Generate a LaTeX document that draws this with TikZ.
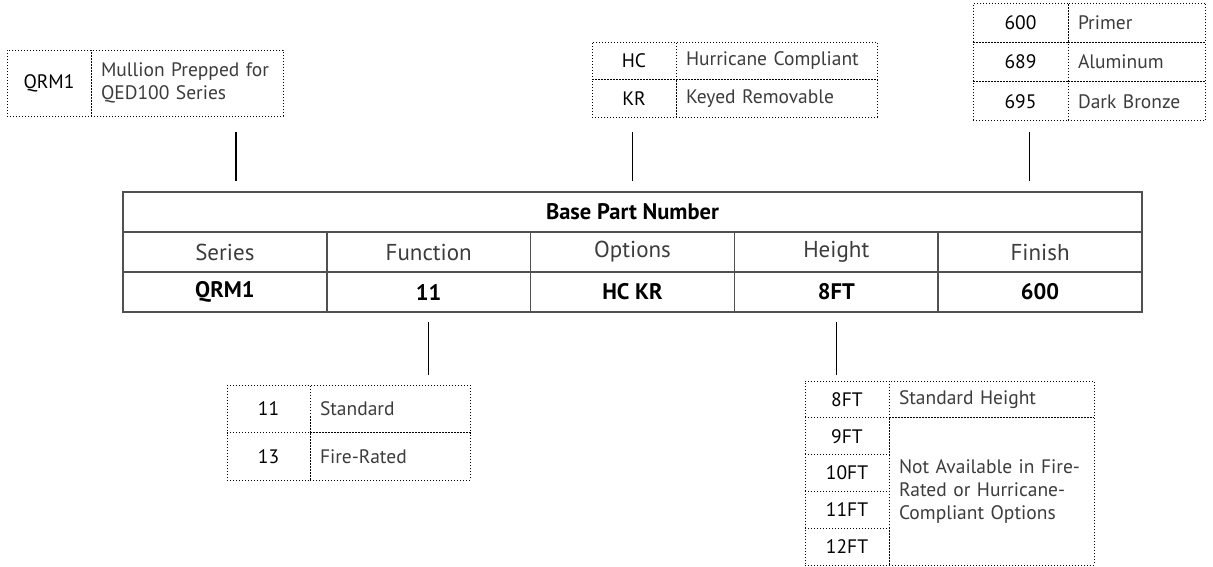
\documentclass[tikz,border=0pt]{standalone}
\usepackage{fontspec}
\setmainfont{PT Sans}
\usetikzlibrary{positioning}
\definecolor{rulegray}{RGB}{80,80,80}
\definecolor{descgray}{RGB}{60,60,60}

\tikzset{
  tbl/.style={draw=rulegray, line width=1.5pt, minimum width=203.8pt,
    minimum height=40pt, inner sep=0pt, outer sep=0pt},
  hdr/.style={tbl, text=descgray, font=\fontsize{23}{26}\selectfont},
  val/.style={tbl, font=\bfseries\fontsize{22.5}{26}\selectfont},
  dots/.style={draw, line width=0.8pt, dash pattern=on 0.8pt off 2.2pt,
    inner sep=0pt, outer sep=0pt},
  dcode/.style={dots, font=\fontsize{19.5}{23}\selectfont},
  ddesc/.style={dots, inner xsep=10pt, align=left, text=descgray,
    font=\fontsize{19.5}{23}\selectfont},
  link/.style={line width=1.2pt}
}

\begin{document}
\begin{tikzpicture}[x=1pt,y=-1pt]
  \useasboundingbox (0,0) rectangle (1213,567);

  % base part number table
  \node[val, minimum width=1019pt] (title) at (632.5,212) {Base Part Number};
  \node[hdr, anchor=north west] (hseries) at (title.south west) {Series};
  \node[hdr, right=0pt of hseries] (hfunc) {Function};
  \node[hdr, right=0pt of hfunc] (hopt) {Options};
  \node[hdr, right=0pt of hopt] (hheight) {Height};
  \node[hdr, right=0pt of hheight] (hfinish) {Finish};
  \node[val, below=0pt of hseries] (series) {QRM1};
  \node[val, below=0pt of hfunc] (func) {11};
  \node[val, below=0pt of hopt] (opt) {HC KR};
  \node[val, below=0pt of hheight] (height) {8FT};
  \node[val, below=0pt of hfinish] (finish) {600};

  % series
  \node[dcode, minimum width=84pt, minimum height=66pt] (qrmcode) at (49,83) {QRM1};
  \node[ddesc, text width=172pt, minimum height=66pt, right=0pt of qrmcode]
    (qrmdesc) {Mullion Prepped for\\QED100 Series};

  % options
  \node[dcode, minimum width=84pt, minimum height=37.5pt] (hccode) at (634,60.75) {HC};
  \node[ddesc, text width=181pt, minimum height=37.5pt, right=0pt of hccode]
    (hcdesc) {Hurricane Compliant};
  \node[dcode, minimum width=84pt, minimum height=37.5pt, below=0pt of hccode] (krcode) {KR};
  \node[ddesc, text width=181pt, minimum height=37.5pt, right=0pt of krcode]
    (krdesc) {Keyed Removable};

  % finish
  \node[dcode, minimum width=95pt, minimum height=39.3pt] (f1code) at (1020.5,22.65) {600};
  \node[dcode, minimum width=95pt, minimum height=39.3pt, below=0pt of f1code] (f2code) {689};
  \node[dcode, minimum width=95pt, minimum height=39.3pt, below=0pt of f2code] (f3code) {695};
  \foreach \n/\t in {1/Primer, 2/Aluminum, 3/Dark Bronze}
    \node[ddesc, text width=117pt, minimum height=39.3pt, right=0pt of f\n code]
      (f\n desc) {\t};

  % function
  \node[dcode, minimum width=83pt, minimum height=47.5pt] (fn1code) at (268.5,408.75) {11};
  \node[dcode, minimum width=83pt, minimum height=47.5pt, below=0pt of fn1code] (fn2code) {13};
  \node[ddesc, text width=140pt, minimum height=47.5pt, right=0pt of fn1code]
    (fn1desc) {Standard};
  \node[ddesc, text width=140pt, minimum height=47.5pt, right=0pt of fn2code]
    (fn2desc) {Fire-Rated};

  % height
  \node[dcode, minimum width=84pt, minimum height=36.8pt] (h8code) at (847,399.4) {8FT};
  \node[dcode, minimum width=84pt, minimum height=36.8pt, below=0pt of h8code] (h9code) {9FT};
  \node[dcode, minimum width=84pt, minimum height=36.8pt, below=0pt of h9code] (h10code) {10FT};
  \node[dcode, minimum width=84pt, minimum height=36.8pt, below=0pt of h10code] (h11code) {11FT};
  \node[dcode, minimum width=84pt, minimum height=36.8pt, below=0pt of h11code] (h12code) {12FT};
  \node[ddesc, text width=185pt, minimum height=36.8pt, right=0pt of h8code]
    (h8desc) {Standard Height};
  \node[ddesc, text width=185pt, minimum height=147.2pt, anchor=north west]
    (hxdesc) at (h9code.north east) {Not Available in Fire-\\Rated or Hurricane-\\Compliant Options};

  % connectors
  \draw[link] (qrmdesc.south -| hseries.north) ++(11,16) -- ++(0,49);
  \draw[link, shorten <=15pt, shorten >=11pt] (krcode.south -| title.north) -- (title.north);
  \draw[link] (f3code.south -| hfinish.north) ++(-11,11) -- ++(0,49);
  \draw[link, shorten <=10pt, shorten >=10pt] (func.south) -- (func.south |- fn1code.north);
  \draw[link, shorten <=10pt, shorten >=6pt] (height.south) -- (height.south |- h8code.north);
\end{tikzpicture}
\end{document}
